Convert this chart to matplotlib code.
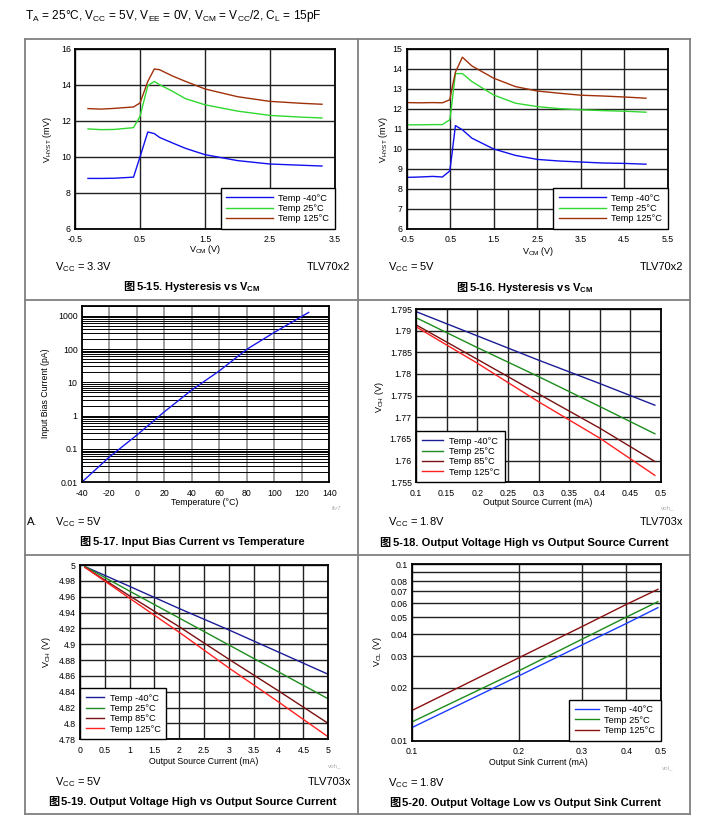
import numpy as np
import matplotlib
matplotlib.use('Agg')
import matplotlib.pyplot as plt
from matplotlib.lines import Line2D

plt.rcParams['font.family'] = ['Liberation Sans', 'Noto Sans CJK SC', 'DejaVu Sans']
plt.rcParams['mathtext.default'] = 'regular'

W, H = 714, 830

# ---- data ----
# 5-15 hysteresis vs VCM, VCC = 3.3V
hyst33_vcm = [-0.3, -0.1, 0.1, 0.4, 0.5, 0.62, 0.72, 0.8, 1.0, 1.2, 1.5, 2.0, 2.5, 3.0, 3.3]
hyst33_m40 = [8.81, 8.81, 8.82, 8.88, 10.0, 11.39, 11.3, 11.09, 10.78, 10.48, 10.13, 9.8, 9.61, 9.54, 9.5]
hyst33_25 = [11.56, 11.52, 11.53, 11.63, 12.26, 13.96, 14.2, 14.02, 13.65, 13.24, 12.9, 12.55, 12.31, 12.21, 12.17]
hyst33_125 = [12.69, 12.66, 12.7, 12.78, 13.0, 14.2, 14.89, 14.85, 14.5, 14.2, 13.78, 13.35, 13.09, 12.98, 12.93]

# 5-16 hysteresis vs VCM, VCC = 5V
hyst5_vcm = [-0.5, -0.2, 0.1, 0.32, 0.49, 0.53, 0.62, 0.78, 1.0, 1.5, 2.0, 2.5, 3.0, 3.5, 4.0, 4.5, 5.0]
hyst5_m40 = [8.58, 8.6, 8.63, 8.6, 8.9, 9.56, 11.17, 10.96, 10.54, 10.0, 9.68, 9.48, 9.4, 9.35, 9.3, 9.28, 9.24]
hyst5_25 = [11.21, 11.21, 11.22, 11.22, 11.46, 12.12, 13.77, 13.77, 13.37, 12.7, 12.29, 12.12, 12.02, 11.96, 11.92, 11.89, 11.84]
hyst5_125 = [12.32, 12.31, 12.32, 12.31, 12.46, 12.92, 13.84, 14.59, 14.15, 13.54, 13.12, 12.9, 12.79, 12.69, 12.65, 12.6, 12.54]

# 5-17 input bias current vs temperature
bias_temp = [-40, -20, 0, 20, 40, 60, 80, 100, 125]
bias_pa = [0.01, 0.057, 0.26, 1.3, 5.9, 22, 98, 316, 1259]

# 5-18 VOH vs source current, VCC = 1.8V
voh18_ma = [0.1, 0.2, 0.3, 0.4, 0.49]
voh18_m40 = [1.7944, 1.7888, 1.7832, 1.7778, 1.7728]
voh18_25 = [1.7930, 1.7861, 1.7794, 1.7725, 1.7662]
voh18_85 = [1.79135, 1.7834, 1.7754, 1.7675, 1.7598]
voh18_125 = [1.7909, 1.7825, 1.7736, 1.7652, 1.7566]

# 5-19 VOH vs source current, VCC = 5V
voh5_ma = [0.1, 1, 2, 3, 4, 5]
voh5_m40 = [4.998, 4.973, 4.945, 4.918, 4.890, 4.862]
voh5_25 = [4.998, 4.967, 4.933, 4.899, 4.865, 4.831]
voh5_85 = [4.997, 4.961, 4.922, 4.881, 4.841, 4.800]
voh5_125 = [4.997, 4.958, 4.915, 4.870, 4.827, 4.783]

# 5-20 VOL vs sink current, VCC = 1.8V
vol_ma = [0.1, 0.2, 0.3, 0.4, 0.49]
vol_m40 = [0.01185, 0.0233, 0.0348, 0.0461, 0.0566]
vol_25 = [0.01275, 0.0249, 0.0375, 0.0501, 0.0612]
vol_125 = [0.0148, 0.0295, 0.0442, 0.0591, 0.0719]

fig = plt.figure(figsize=(W / 100, H / 100), dpi=100)


def px_axes(x0, y0, x1, y1):
    return fig.add_axes([x0 / W, 1 - y1 / H, (x1 - x0) / W, (y1 - y0) / H])


def ptxt(x, y, s, **kw):
    return fig.text(x / W, 1 - y / H, s, **kw)


def pline(x0, y0, x1, y1):
    fig.add_artist(Line2D([x0 / W, x1 / W], [1 - y0 / H, 1 - y1 / H],
                          color='#808080', lw=1.3, transform=fig.transFigure))


def style(ax, xt, xl, yt, yl, gcol='#222222'):
    ax.set_xticks(xt)
    ax.set_xticklabels(xl)
    ax.set_yticks(yt)
    ax.set_yticklabels(yl)
    ax.tick_params(length=0, labelsize=6.3)
    ax.tick_params(axis='x', pad=4.5)
    ax.tick_params(axis='y', pad=3)
    ax.grid(True, color=gcol, lw=1.0)
    for s in ax.spines.values():
        s.set_linewidth(1.3)
        s.set_color('black')


def leg(ax, loc, hl):
    lg = ax.legend(loc=loc, fontsize=6.7, handlelength=hl, handletextpad=0.6,
                   labelspacing=0.15, borderpad=0.6, borderaxespad=0,
                   fancybox=False, framealpha=1, edgecolor='black')
    lg.get_frame().set_linewidth(1.0)


caps = []


def caption(cx, cy, rest):
    t1 = ptxt(cx, cy, '图', family=['Noto Sans CJK SC'], weight='bold', size=8, va='baseline')
    t2 = ptxt(cx, cy, rest, weight='bold', size=8, va='baseline')
    caps.append((cx, t1, t2))


# ---- 5-15 ----
ax1 = px_axes(75, 49, 335, 229)
ax1.plot(hyst33_vcm, hyst33_m40, color='#1010f0', lw=1.0, label='Temp -40°C')
ax1.plot(hyst33_vcm, hyst33_25, color='#30d830', lw=1.0, label='Temp 25°C')
ax1.plot(hyst33_vcm, hyst33_125, color='#a0300a', lw=1.0, label='Temp 125°C')
style(ax1, [-0.5, 0.5, 1.5, 2.5, 3.5], ['-0.5', '0.5', '1.5', '2.5', '3.5'],
      [6, 8, 10, 12, 14, 16], ['6', '8', '10', '12', '14', '16'])
ax1.set_xlim(-0.5, 3.5)
ax1.set_ylim(6, 16)
leg(ax1, 'lower right', 5.0)
ptxt(48, 140, 'V$_{HYST}$ (mV)', rotation=90, ha='center', va='center', size=6.5)
ptxt(205, 250, 'V$_{CM}$ (V)', ha='center', va='center', size=6.5)
ptxt(55, 267, 'V$_{CC}$ = 3.3V', ha='left', va='center', size=8)
ptxt(350, 267, 'TLV70x2', ha='right', va='center', size=8)
caption(192, 290, '5-15. Hysteresis vs V$_{CM}$')

# ---- 5-16 ----
ax2 = px_axes(406.7, 49, 667.7, 229)
ax2.plot(hyst5_vcm, hyst5_m40, color='#1010f0', lw=1.0, label='Temp -40°C')
ax2.plot(hyst5_vcm, hyst5_25, color='#30d830', lw=1.0, label='Temp 25°C')
ax2.plot(hyst5_vcm, hyst5_125, color='#a0300a', lw=1.0, label='Temp 125°C')
style(ax2, [-0.5, 0.5, 1.5, 2.5, 3.5, 4.5, 5.5], ['-0.5', '0.5', '1.5', '2.5', '3.5', '4.5', '5.5'],
      list(range(6, 16)), [str(v) for v in range(6, 16)])
ax2.set_xlim(-0.5, 5.5)
ax2.set_ylim(6, 15)
leg(ax2, 'lower right', 5.0)
ptxt(383, 140, 'V$_{HYST}$ (mV)', rotation=90, ha='center', va='center', size=6.5)
ptxt(537.7, 251, 'V$_{CM}$ (V)', ha='center', va='center', size=6.5)
ptxt(388, 267, 'V$_{CC}$ = 5V', ha='left', va='center', size=8)
ptxt(683, 267, 'TLV70x2', ha='right', va='center', size=8)
caption(525, 291, '5-16. Hysteresis vs V$_{CM}$')

# ---- 5-17 ----
ax3 = px_axes(81.7, 305.7, 329.3, 482.3)
ax3.plot(bias_temp, bias_pa, color='#1a1aee', lw=1.0)
ax3.set_yscale('log')
style(ax3, list(range(-40, 141, 20)), [str(v) for v in range(-40, 141, 20)],
      [0.01, 0.1, 1, 10, 100, 1000], ['0.01', '0.1', '1', '10', '100', '1000'])
ax3.grid(False)
ax3.set_yticks([m * 10.0 ** e for e in range(-2, 4) for m in range(2, 10)], minor=True)
ax3.tick_params(which='minor', length=0, labelleft=False)
ax3.grid(True, which='both', axis='y', color='black', lw=0.7)
ax3.grid(True, which='major', axis='x', color='#909090', lw=1.2)
ax3.set_xlim(-40, 140)
ax3.set_ylim(0.01, 2000)
ptxt(46, 393, 'Input Bias Current (pA)', rotation=90, ha='center', va='center', size=6.3)
ptxt(205, 502, 'Temperature (°C)', ha='center', va='center', size=6.3)
ptxt(337, 508, 'tlv7', ha='center', va='center', size=4.5, color='#b0b0b0')
ptxt(27, 522, 'A.', ha='left', va='center', size=8)
ptxt(55, 522, 'V$_{CC}$ = 5V', ha='left', va='center', size=8)
caption(192, 545, '5-17. Input Bias Current vs Temperature')

# ---- 5-18 ----
ax4 = px_axes(416, 309, 661, 482.3)
ax4.plot(voh18_ma, voh18_m40, color='#1c1c96', lw=1.0, label='Temp -40°C')
ax4.plot(voh18_ma, voh18_25, color='#1e8c1e', lw=1.0, label='Temp 25°C')
ax4.plot(voh18_ma, voh18_85, color='#7a1010', lw=1.0, label='Temp 85°C')
ax4.plot(voh18_ma, voh18_125, color='#ff2020', lw=1.0, label='Temp 125°C')
xs4 = [0.1, 0.15, 0.2, 0.25, 0.3, 0.35, 0.4, 0.45, 0.5]
ys4 = [1.755, 1.76, 1.765, 1.77, 1.775, 1.78, 1.785, 1.79, 1.795]
style(ax4, xs4, ['%g' % v for v in xs4], ys4, ['%g' % v for v in ys4])
ax4.set_xlim(0.1, 0.5)
ax4.set_ylim(1.755, 1.795)
leg(ax4, 'lower left', 2.3)
ptxt(379, 397, 'V$_{OH}$ (V)', rotation=90, ha='center', va='center', size=6.5)
ptxt(538, 502, 'Output Source Current (mA)', ha='center', va='center', size=6.3)
ptxt(668, 508, 'voh_', ha='center', va='center', size=4.5, color='#b0b0b0')
ptxt(388, 522, 'V$_{CC}$ = 1.8V', ha='left', va='center', size=8)
ptxt(683, 522, 'TLV703x', ha='right', va='center', size=8)
caption(524, 546, '5-18. Output Voltage High vs Output Source Current')

# ---- 5-19 ----
ax5 = px_axes(80, 565, 328.3, 739.3)
ax5.plot(voh5_ma, voh5_m40, color='#1c1c96', lw=1.0, label='Temp -40°C')
ax5.plot(voh5_ma, voh5_25, color='#1e8c1e', lw=1.0, label='Temp 25°C')
ax5.plot(voh5_ma, voh5_85, color='#7a1010', lw=1.0, label='Temp 85°C')
ax5.plot(voh5_ma, voh5_125, color='#ff2020', lw=1.0, label='Temp 125°C')
xs5 = [0, 0.5, 1, 1.5, 2, 2.5, 3, 3.5, 4, 4.5, 5]
ys5 = [4.78, 4.8, 4.82, 4.84, 4.86, 4.88, 4.9, 4.92, 4.94, 4.96, 4.98, 5.0]
style(ax5, xs5, ['%g' % v for v in xs5], ys5, ['%g' % v for v in ys5])
ax5.set_xlim(0, 5)
ax5.set_ylim(4.78, 5.0)
leg(ax5, 'lower left', 2.0)
ptxt(46.7, 652, 'V$_{OH}$ (V)', rotation=90, ha='center', va='center', size=6.5)
ptxt(204, 761, 'Output Source Current (mA)', ha='center', va='center', size=6.3)
ptxt(335, 766, 'voh_', ha='center', va='center', size=4.5, color='#b0b0b0')
ptxt(55, 782, 'V$_{CC}$ = 5V', ha='left', va='center', size=8)
ptxt(351, 782, 'TLV703x', ha='right', va='center', size=8)
caption(192, 805, '5-19. Output Voltage High vs Output Source Current')

# ---- 5-20 ----
ax6 = px_axes(411.7, 564, 661, 740.7)
ax6.plot(vol_ma, vol_m40, color='#1a3cff', lw=1.0, label='Temp -40°C')
ax6.plot(vol_ma, vol_25, color='#1a8c1a', lw=1.0, label='Temp 25°C')
ax6.plot(vol_ma, vol_125, color='#8b1010', lw=1.0, label='Temp 125°C')
ax6.set_xscale('log')
ax6.set_yscale('log')
ax6.minorticks_off()
xs6 = [0.1, 0.2, 0.3, 0.4, 0.5]
ys6 = [0.01, 0.02, 0.03, 0.04, 0.05, 0.06, 0.07, 0.08, 0.09, 0.1]
style(ax6, xs6, ['%g' % v for v in xs6], ys6, ['%g' % v if v != 0.09 else '' for v in ys6])
ax6.minorticks_off()
ax6.set_xlim(0.1, 0.5)
ax6.set_ylim(0.01, 0.1)
leg(ax6, 'lower right', 2.6)
ptxt(378, 652, 'V$_{OL}$ (V)', rotation=90, ha='center', va='center', size=6.5)
ptxt(538, 762, 'Output Sink Current (mA)', ha='center', va='center', size=6.3)
ptxt(668, 768, 'vol_', ha='center', va='center', size=4.5, color='#b0b0b0')
ptxt(388, 783, 'V$_{CC}$ = 1.8V', ha='left', va='center', size=8)
caption(525, 806, '5-20. Output Voltage Low vs Output Sink Current')

# ---- header and frame ----
ptxt(25, 16, 'T$_A$ = 25°C, V$_{CC}$ = 5V, V$_{EE}$ = 0V, V$_{CM}$ = V$_{CC}$/2, C$_L$ = 15pF',
     ha='left', va='center', size=8.6)
pline(25, 39.5, 690, 39.5)
pline(25, 814, 690, 814)
pline(25, 39.5, 25, 814)
pline(690, 39.5, 690, 814)
pline(358, 39.5, 358, 814)
pline(25, 300, 690, 300)
pline(25, 555, 690, 555)

# center the caption pieces ("图" + text) as one block
r = fig.canvas.get_renderer()
for cx, t1, t2 in caps:
    w1 = t1.get_window_extent(r).width
    w2 = t2.get_window_extent(r).width
    x0 = cx - (w1 + 2 + w2) / 2
    t1.set_x(x0 / W)
    t1.set_ha('left')
    t2.set_x((x0 + w1 + 2) / W)
    t2.set_ha('left')

fig.savefig('out.png', dpi=100)
